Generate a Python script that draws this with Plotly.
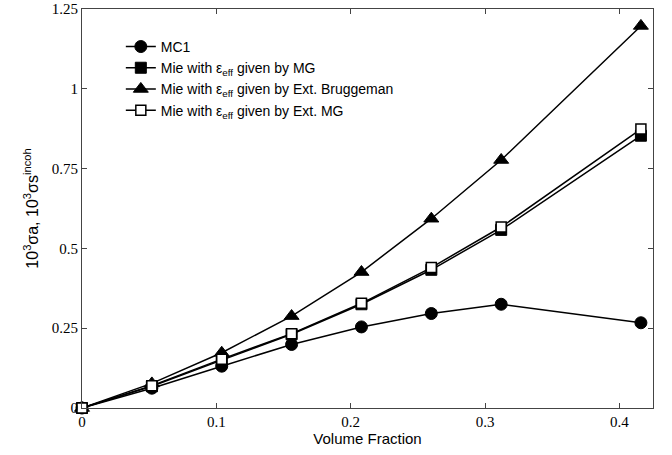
import plotly.graph_objects as go

x = [0, 0.052, 0.104, 0.156, 0.208, 0.26, 0.312, 0.416]
mc1 = [0, 0.062, 0.131, 0.199, 0.254, 0.296, 0.325, 0.267]
mie_mg = [0, 0.068, 0.150, 0.231, 0.325, 0.433, 0.558, 0.853]
mie_brugg = [0, 0.077, 0.173, 0.288, 0.426, 0.593, 0.777, 1.197]
mie_extmg = [0, 0.070, 0.153, 0.233, 0.328, 0.440, 0.567, 0.874]

names = ["MC1", "Mie with ε<sub>eff</sub> given by MG",
         "Mie with ε<sub>eff</sub> given by Ext. Bruggeman",
         "Mie with ε<sub>eff</sub> given by Ext. MG"]
xticks = [0, 0.1, 0.2, 0.3, 0.4]
xticklabels = ["0", "0.1", "0.2", "0.3", "0.4"]
yticks = [0, 0.25, 0.5, 0.75, 1, 1.25]
yticklabels = ["0", "0.25", "0.5", "0.75", "1", "1.25"]

styles = [
    dict(symbol="circle", size=12, color="black", line=dict(color="black", width=1)),
    dict(symbol="square", size=11, color="black", line=dict(color="black", width=1)),
    dict(symbol="triangle-up", size=13, color="black", line=dict(color="black", width=1)),
    dict(symbol="square", size=10, color="white", line=dict(color="black", width=1.5)),
]

fig = go.Figure()
for ys, nm, st in zip([mc1, mie_mg, mie_brugg, mie_extmg], names, styles):
    fig.add_trace(go.Scatter(x=x, y=ys, name=nm, mode="lines+markers",
                             line=dict(color="black", width=1.5),
                             marker=st, cliponaxis=False))

axis_common = dict(showline=True, linecolor="#444", linewidth=1, mirror="ticks",
                   ticks="inside", ticklen=5, tickcolor="#444", showgrid=False,
                   zeroline=False, automargin=False,
                   tickfont=dict(family="Liberation Serif", size=15, color="black"))

fig.update_xaxes(range=[0, 0.425], tickvals=xticks, ticktext=xticklabels,
                 title=dict(text="Volume Fraction", standoff=2,
                            font=dict(family="Liberation Sans", size=15, color="black")),
                 **axis_common)
fig.update_yaxes(range=[0, 1.25], tickvals=yticks, ticktext=yticklabels,
                 title=dict(text="10<sup>3</sup>σa, 10<sup>3</sup>σs<sup>incoh</sup>", standoff=9,
                            font=dict(family="Liberation Sans", size=16, color="black")),
                 **axis_common)

fig.update_layout(
    width=672, height=455,
    margin=dict(l=82, r=19, t=9, b=47),
    plot_bgcolor="white", paper_bgcolor="white",
    legend=dict(x=0.068, y=0.945, xanchor="left", yanchor="top",
                bgcolor="rgba(0,0,0,0)", borderwidth=0,
                font=dict(family="Liberation Sans", size=14, color="black"),
                tracegroupgap=0, itemwidth=30),
)

fig.write_html("out.html",
               config={"displayModeBar": False},
               post_script="document.body.style.margin='0';document.body.style.overflow='hidden';")
